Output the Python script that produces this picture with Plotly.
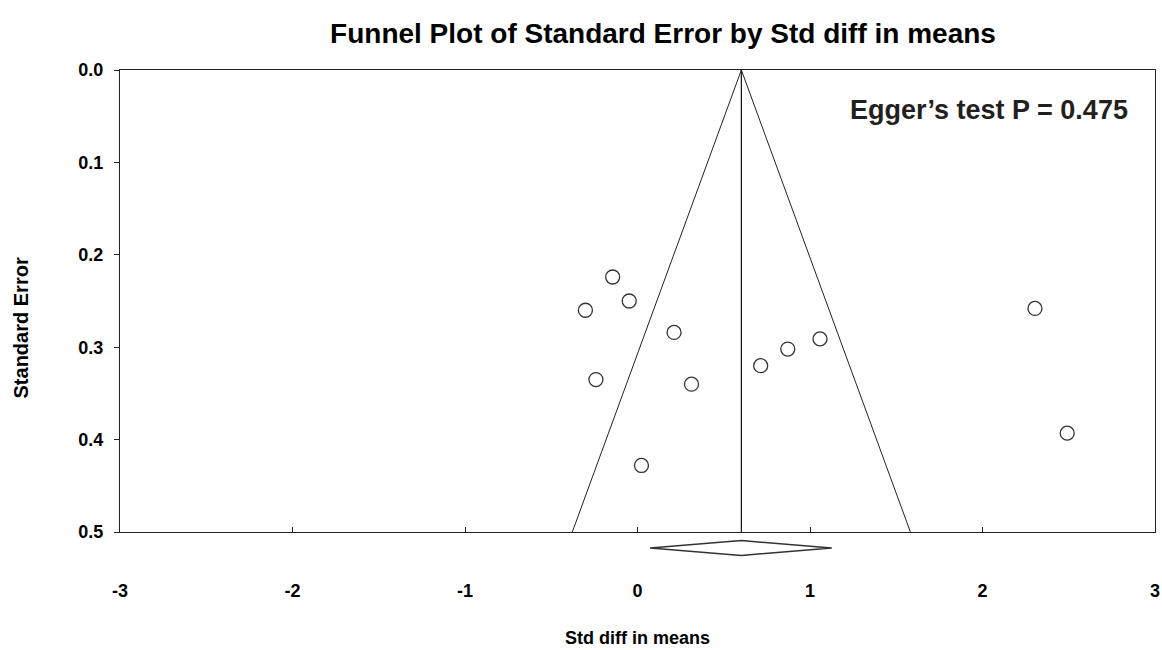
import plotly.graph_objects as go

# ---- data ----
std_diff = [-0.144, -0.048, -0.302, 0.212, -0.241, 0.313, 0.023, 0.714, 0.871, 1.058, 2.304, 2.491]
std_err = [0.224, 0.250, 0.260, 0.284, 0.335, 0.340, 0.428, 0.320, 0.302, 0.291, 0.258, 0.393]
pooled_estimate = [0.602]
pooled_ci = [0.073, 1.126]
x_ticks = [-3, -2, -1, 0, 1, 2, 3]
x_tick_labels = ["-3", "-2", "-1", "0", "1", "2", "3"]
y_ticks = [0.0, 0.1, 0.2, 0.3, 0.4, 0.5]
y_tick_labels = ["0.0", "0.1", "0.2", "0.3", "0.4", "0.5"]
egger_p = "0.475"

FONT = "Liberation Sans, Arial, sans-serif"
W, H = 1162, 650
ML, MR, MT, MB = 120, 2, 70, 118
plot_h = H - MT - MB
plot_w = W - ML - MR

mu = pooled_estimate[0]
se_max = max(y_ticks)
z = 1.96

fig = go.Figure()

# funnel sides
fig.add_trace(go.Scatter(
    x=[mu - z * se_max, mu, mu + z * se_max],
    y=[se_max, 0.0, se_max],
    mode="lines", line=dict(color="#222222", width=1),
    hoverinfo="skip", showlegend=False))
# vertical line at pooled estimate
fig.add_trace(go.Scatter(
    x=[mu, mu], y=[0.0, se_max],
    mode="lines", line=dict(color="#111111", width=1.2),
    hoverinfo="skip", showlegend=False))
# studies
fig.add_trace(go.Scatter(
    x=std_diff, y=std_err, mode="markers",
    marker=dict(symbol="circle-open", size=14, color="#333333", line=dict(width=1.3)),
    showlegend=False))

# diamond below the axis (paper coords in y)
dy_c = -16.0 / plot_h
dy_h = 7.5 / plot_h
lo, hi = pooled_ci
path = (f"M {lo},{dy_c} L {mu},{dy_c + dy_h} L {hi},{dy_c} "
        f"L {mu},{dy_c - dy_h} Z")
fig.add_shape(type="path", path=path, xref="x", yref="paper",
              line=dict(color="#333333", width=1.5), fillcolor="white")

fig.update_layout(
    width=W, height=H,
    margin=dict(l=ML, r=MR, t=MT, b=MB),
    paper_bgcolor="white", plot_bgcolor="white",
    font=dict(family=FONT, color="black"),
    title=dict(text="Funnel Plot of Standard Error by Std diff in means",
               x=663 / W, xref="container", xanchor="center",
               y=1 - 33 / H, yref="container", yanchor="middle",
               font=dict(family=FONT, size=28, weight="bold", color="black")),
    xaxis=dict(range=[-3, 3], tickvals=x_ticks, ticktext=x_tick_labels,
               showgrid=False, zeroline=False,
               showline=True, linecolor="#222222", linewidth=1.2, mirror=True,
               ticks="inside", ticklen=5, tickcolor="#222222",
               ticklabelstandoff=42, ticklabeloverflow="allow",
               tickfont=dict(family=FONT, size=18, weight="bold", color="black")),
    yaxis=dict(range=[0.5, 0.0], tickvals=y_ticks, ticktext=y_tick_labels,
               showgrid=False, zeroline=False,
               showline=True, linecolor="#222222", linewidth=1.2, mirror=True,
               ticks="outside", ticklen=5, tickcolor="#222222",
               ticklabelstandoff=7,
               tickfont=dict(family=FONT, size=18, weight="bold", color="black")),
    annotations=[
        dict(text=f"Egger\u2019s test P = {egger_p}", xref="paper", yref="paper",
             x=(1135 - ML) / plot_w, y=(H - MB - 110) / plot_h,
             xanchor="right", yanchor="middle", showarrow=False,
             font=dict(family=FONT, size=27, weight="bold", color="#231f20")),
        dict(text="Std diff in means", xref="paper", yref="paper",
             x=(640 - ML) / plot_w, y=-(638 - (H - MB)) / plot_h,
             xanchor="center", yanchor="middle", showarrow=False,
             font=dict(family=FONT, size=18, weight="bold", color="black")),
        dict(text="Standard Error", xref="paper", yref="paper", textangle=-90,
             x=-(ML - 21) / plot_w, y=(H - MB - 328) / plot_h,
             xanchor="center", yanchor="middle", showarrow=False,
             font=dict(family=FONT, size=20, weight="bold", color="black")),
    ],
)

fig.write_html(
    "out.html",
    config={"displayModeBar": False},
    post_script="document.body.style.margin='0';document.body.style.overflow='hidden';",
)
